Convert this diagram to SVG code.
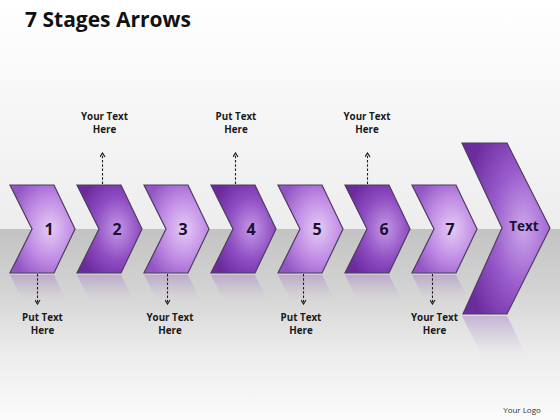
<svg xmlns="http://www.w3.org/2000/svg" width="560" height="420" viewBox="0 0 560 420">
<defs>
<linearGradient id="bgTop" x1="0" y1="0" x2="0" y2="1">
<stop offset="0" stop-color="#ffffff"/><stop offset="1" stop-color="#ededed"/>
</linearGradient>
<linearGradient id="bgBot" x1="0" y1="0" x2="0" y2="1">
<stop offset="0" stop-color="#c3c3c3"/><stop offset="0.3" stop-color="#d2d2d2"/><stop offset="0.65" stop-color="#ececec"/><stop offset="1" stop-color="#fbfbfb"/>
</linearGradient>
<radialGradient id="light" cx="0.62" cy="0.5" r="0.65">
<stop offset="0" stop-color="#e4cbf5"/><stop offset="0.55" stop-color="#c08be4"/><stop offset="1" stop-color="#9256c4"/>
</radialGradient>
<radialGradient id="dark" cx="0.62" cy="0.5" r="0.65">
<stop offset="0" stop-color="#c497e6"/><stop offset="0.55" stop-color="#8e4dc2"/><stop offset="1" stop-color="#6a2a9c"/>
</radialGradient>
<radialGradient id="big" cx="0.7" cy="0.5" r="0.7">
<stop offset="0" stop-color="#cda6ec"/><stop offset="0.5" stop-color="#9a5ccc"/><stop offset="1" stop-color="#6c2c9e"/>
</radialGradient>
<linearGradient id="refl" x1="0" y1="0" x2="0" y2="1">
<stop offset="0" stop-color="#9a66c4" stop-opacity="0.35"/><stop offset="1" stop-color="#b090d0" stop-opacity="0"/>
</linearGradient>
<marker id="ah" markerWidth="6" markerHeight="6" refX="5" refY="3" orient="auto" markerUnits="userSpaceOnUse">
<path d="M1,0.5 L5,3 L1,5.5" fill="none" stroke="#222" stroke-width="1.2"/>
</marker>
</defs>
<style>
.chev{stroke:#4e3c60;stroke-width:1.2;stroke-linejoin:miter}
.num{font-family:"Open Sans","Liberation Sans",sans-serif;font-weight:bold;font-size:16px;fill:#1e1030;text-anchor:middle}
.lbl{font-family:"Open Sans","Liberation Sans",sans-serif;font-weight:bold;font-size:9.8px;fill:#1a1a1a;text-anchor:middle}
.conn{stroke:#222;stroke-width:1.1;stroke-dasharray:2.5,1.8;fill:none;marker-end:url(#ah)}
.refl{fill:url(#refl)}
</style>
<rect x="0" y="0" width="560" height="229" fill="url(#bgTop)"/>
<rect x="0" y="229" width="560" height="191" fill="url(#bgBot)"/>
<text x="25" y="27" font-family="Open Sans, Liberation Sans, sans-serif" font-weight="bold" font-size="21" fill="#111">7 Stages Arrows</text>
<g id="reflections">
<polygon class="refl" points="10,275 54,275 66,299 22,299"/>
<polygon class="refl" points="77,275 121,275 133,299 89,299"/>
<polygon class="refl" points="144,275 188,275 200,299 156,299"/>
<polygon class="refl" points="211,275 255,275 267,299 223,299"/>
<polygon class="refl" points="278,275 322,275 334,299 290,299"/>
<polygon class="refl" points="345,275 389,275 401,299 357,299"/>
<polygon class="refl" points="412,275 456,275 468,299 424,299"/>
<polygon class="refl" points="462,316 507,316 526,354 481,354"/>
</g>
<g id="node1"><polygon class="chev" fill="url(#light)" points="10,185 54,185 75,229 54,273 10,273 32,229"/><text class="num" x="49" y="235">1</text></g>
<g id="node2"><polygon class="chev" fill="url(#dark)" points="77,185 121,185 142,229 121,273 77,273 99,229"/><text class="num" x="117" y="235">2</text></g>
<g id="node3"><polygon class="chev" fill="url(#light)" points="144,185 188,185 209,229 188,273 144,273 166,229"/><text class="num" x="183" y="235">3</text></g>
<g id="node4"><polygon class="chev" fill="url(#dark)" points="211,185 255,185 276,229 255,273 211,273 233,229"/><text class="num" x="251" y="235">4</text></g>
<g id="node5"><polygon class="chev" fill="url(#light)" points="278,185 322,185 343,229 322,273 278,273 300,229"/><text class="num" x="317" y="235">5</text></g>
<g id="node6"><polygon class="chev" fill="url(#dark)" points="345,185 389,185 410,229 389,273 345,273 367,229"/><text class="num" x="384" y="235">6</text></g>
<g id="node7"><polygon class="chev" fill="url(#light)" points="412,185 456,185 477,229 456,273 412,273 434,229"/><text class="num" x="450" y="235">7</text></g>
<g id="node8"><polygon class="chev" fill="url(#big)" points="462,143 507,143 550,228 507,314 463,314 502,228"/><text class="num" x="524" y="231" style="font-size:13.5px">Text</text></g>
<g id="connectors">
<line class="conn" x1="102.5" y1="184" x2="102.5" y2="153"/>
<line class="conn" x1="235.5" y1="184" x2="235.5" y2="153"/>
<line class="conn" x1="367.5" y1="184" x2="367.5" y2="153"/>
<line class="conn" x1="37.5" y1="274" x2="37.5" y2="304"/>
<line class="conn" x1="167.5" y1="274" x2="167.5" y2="304"/>
<line class="conn" x1="303.5" y1="274" x2="303.5" y2="304"/>
<line class="conn" x1="432.5" y1="274" x2="432.5" y2="304"/>
</g>
<g id="labels">
<text class="lbl" x="104.5" y="120">Your Text</text><text class="lbl" x="104.5" y="133">Here</text>
<text class="lbl" x="236" y="120">Put Text</text><text class="lbl" x="236" y="133">Here</text>
<text class="lbl" x="367" y="120">Your Text</text><text class="lbl" x="367" y="133">Here</text>
<text class="lbl" x="42.5" y="321">Put Text</text><text class="lbl" x="42.5" y="334">Here</text>
<text class="lbl" x="170" y="321">Your Text</text><text class="lbl" x="170" y="334">Here</text>
<text class="lbl" x="301" y="321">Put Text</text><text class="lbl" x="301" y="334">Here</text>
<text class="lbl" x="434.5" y="321">Your Text</text><text class="lbl" x="434.5" y="334">Here</text>
</g>
<text x="522" y="413" font-family="Open Sans, Liberation Sans, sans-serif" font-size="8" fill="#333" text-anchor="middle">Your Logo</text>
</svg>
